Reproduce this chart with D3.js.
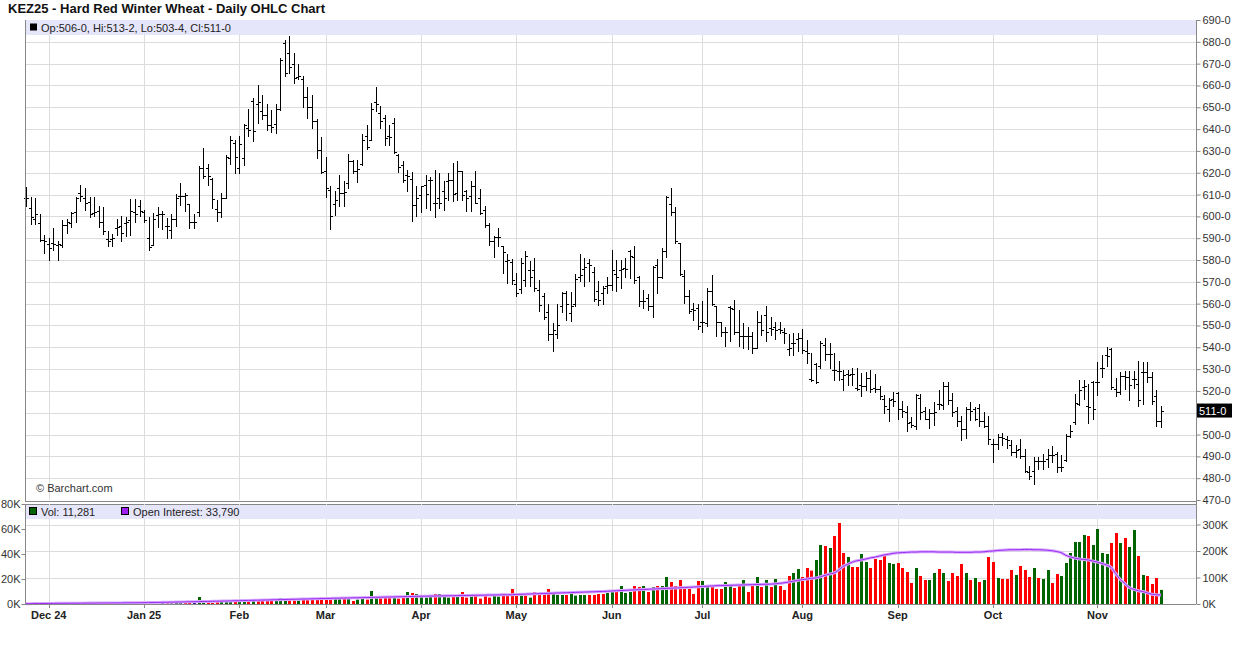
<!DOCTYPE html>
<html><head><meta charset="utf-8">
<script src="https://cdn.jsdelivr.net/npm/d3@7/dist/d3.min.js"></script>
<style>
body{margin:0;background:#fff;}
svg text{font-family:"Liberation Sans",Arial,Helvetica,sans-serif;}
</style>
</head><body>
<svg id="chart" width="1236" height="645"></svg>
<script>
// ---------- DATA ----------
const title = "KEZ25 - Hard Red Winter Wheat - Daily OHLC Chart";
const firstDay = "2024-11-22", lastDay = "2025-11-21";
const holidays = ["2024-11-28","2024-12-25","2025-01-01","2025-01-20","2025-02-17","2025-04-18","2025-05-26","2025-06-19","2025-07-04","2025-09-01"];
const priceTicks = [470,480,490,500,510,520,530,540,550,560,570,580,590,600,610,620,630,640,650,660,670,680,690];
const volTicksLeft = [0,20,40,60,80];           // thousands
const oiTicksRight = [0,100,200,300];            // thousands

const opens = [608.5,603.8,598.8,597,589,587.3,587.7,587.1,587.1,596,597,601.8,610.9,608.6,606.4,601.4,602.6,597.3,589.7,589.7,594.5,595.8,597,598.5,601.8,604.8,601.8,590,587.1,600.8,601,595.8,593.8,599,609.4,609.4,605.6,597.3,601.8,622.3,622.3,617,603.3,602,608.2,626.8,633.6,622.3,626.6,640.4,653,651.5,648.3,646.5,641.9,642.2,649,679.3,675,670,664,663,654.6,650.3,643.9,630.4,621,612,605.8,613,610.7,615.3,625.5,620.6,624,637,635.1,652.2,647.6,645,637,642.7,628.2,623.7,619.1,617.1,605.3,609.6,614.5,616.5,606,608.4,611.5,616,616.8,610.7,620.6,611.5,609.2,614,608.4,603,596.2,588.5,590.4,586.3,579.4,578.9,569.2,566.5,571,575.6,575.6,566.3,563.4,556,546.3,546.3,558.8,564.9,555.7,560,572,575.8,578.5,574.3,565.6,565.1,568.2,568.6,573.7,575.2,576.3,583.9,581.5,572.1,561,562.5,559,577.8,572.4,583.9,605.7,601.9,587.7,572.7,563.6,557.5,557.9,551.4,551,565.6,558.7,551.4,547.2,558.4,557.5,546.8,545,545.3,545,539.6,551.4,554.9,548.8,549.5,548.3,546.8,539.2,541.9,543.7,544.2,538.1,525.4,532.3,531.2,541.1,537,529.7,528.9,525.4,527.9,527.9,521.2,522.8,522.4,525.8,521.2,520.9,516.3,511.5,516.3,519.1,511.5,510.5,505.6,503.8,516.6,511,507.2,509.9,514,513.6,522.4,516,511,506,502.6,511.5,511.5,512,506,503.8,495.7,495.7,498.8,498,495.3,492.2,493.4,490,483,483.5,488.1,488.1,488.9,490.4,491.1,485,488.5,499.5,505.6,514,521.7,513.3,524.3,524.3,530.4,536.5,539.2,520.9,519.4,527,526.3,525.5,523,528.5,528.5,526.3,517.6,506];
const highs = [613.6,609.1,608.3,601,591.5,590,594.5,588.6,598.3,598.6,601.8,609.1,614.2,612.9,609.1,609.1,604.8,604.5,593.2,592,598.6,600,599.5,607.9,607.9,607.6,603,599.5,601.4,604.5,602.6,599.2,601,610.2,615.5,610.6,605.6,601,623,631.4,623.8,617.7,607.4,610.5,628.3,637,634.8,636.9,642.2,649,654.1,660.2,655.6,651.5,648.7,651.5,672.4,681,682.6,674.7,670,664.4,659.5,655.5,644.4,636.4,627.4,614,611.8,619.1,616,628.5,626,626,637.9,642,651.9,659.2,650.4,646.6,642,645.3,628.7,625.6,621.4,620.2,613.7,614,618.8,618,621.4,619.9,616,619.9,624.4,625.5,620.6,612.2,616,620.6,612.5,604.9,596.9,591.1,594.6,586.6,582.9,580.5,574,580.9,584,579.4,580.9,571,564.9,560,551.1,560,565.2,565.6,565.3,573.7,582.8,580.8,580.4,576.7,570.2,568.2,572.4,584.7,580.1,580.1,580.8,584.7,586.2,572.7,566.3,564.5,577.3,580.4,585.4,609.4,612.9,604.2,588,575.5,566.3,560.2,559.9,561,567.1,573.2,559,551.8,549.5,558.7,561.8,556.9,551.1,549.5,547.2,556.4,554.9,558.7,554.1,551.4,551.4,548.8,546.2,546.5,546.5,548.3,543.4,537.3,532.7,542.7,544.2,541.9,537.6,533.5,529.7,529.4,530.5,530.5,528.2,528.5,529.8,527.8,522.4,517.9,516.6,519.7,519.7,515.6,513.3,507.9,518.6,518.6,512.5,511.8,514.8,520.6,524,524.3,519.1,512.5,508.4,512.5,515.1,512.5,514,510.5,508.7,498,500.3,500.8,499.2,497.7,495,498,493.4,485.8,489.6,489.6,491.1,493.4,494.7,491.9,490.7,500.3,504.4,518.6,525.2,525.2,523.2,524.7,533.1,536.5,540,539.5,525.8,528.5,528.9,529.3,529.3,533.9,533.1,533.1,528.5,520.2,513.25];
const lows = [604.8,596.7,596.7,588.6,583.2,580,584.8,580,585.9,592.6,595,597.6,607.1,603,599.5,600.3,595.3,592.1,586.2,586.2,591.5,588.6,590.8,591.5,597.6,600.3,597.6,584.8,587.1,595,594.2,590.3,590,595.8,605.2,602.6,594.5,594.5,600,617.6,614.6,604,598,599.5,608.2,623.8,619.7,620,623.6,636.9,634.7,642.6,644.4,639.6,638.8,638,648.7,664.4,665.9,661,662.8,650.3,645,640.4,626.6,620,608.7,594.2,600.8,604.6,604.6,613,619.9,615.6,623.7,630.8,635.1,648.1,640.5,632.5,632.8,629,620.2,615.6,611.5,597.7,600,601.8,603.8,603,599.5,603.8,603,607.6,606.9,607.3,607.6,602.6,602.3,606.1,601.2,595.1,587,581.4,586.3,574,569.5,569.2,563.4,564.9,568,568,565.6,556.5,553,543.5,538.1,544.3,556,552.7,552.2,558.8,570.6,568.2,570.6,561,559.5,559.8,564.8,566.3,565.6,567.1,572,571.7,569.4,558.7,558,557.2,553.8,564.8,571.7,581.6,600.7,587.7,573.2,560.5,555.6,552.6,548.6,546.8,549.8,559.5,545.3,545.3,540.4,542.7,546.2,540.4,539.6,539.2,537.6,539.6,545.7,542.7,545.7,543.7,546.5,541.9,536.6,536.6,538.1,537.3,533,524.4,523.6,530.5,534.3,530.5,525.1,525.1,520.5,522.8,522.8,520.2,517.8,520.5,519.7,519.4,516.3,509.9,506.4,513.3,507.2,507.9,501.4,503.4,502.6,507.2,507.2,502.9,504.4,511.8,511.5,514,508.4,504.1,497.3,498.3,506.7,506.7,504.1,503.4,495.7,487.6,493.4,495,493.7,490.4,489.6,489.2,482.7,479.7,477.4,484.3,484,485,487.3,482.7,483.5,488.1,498.8,504.9,513.6,516.3,505.3,507.2,518.2,526.3,531.3,520.9,517.6,518.6,520.9,516,521.2,513.3,514,524,514,503.8,503.5];
const closes = [608.5,599.5,601,589,588.6,585.6,587.3,587.3,596.2,597.4,601.5,608.6,609.4,606,601,601.8,597.3,593.2,588.9,590,595,592.3,597.3,602.6,601,602.6,598.5,585.9,599,601,601,595.5,599,608.6,609.4,610,597.3,597.3,622.3,618.5,618.5,607.9,601.8,608.2,627.3,635.2,627.3,633,641.9,639.5,639,652.6,646.5,641.9,641.1,649,671.6,665.9,668.6,663.3,664.5,654.6,650.3,643.9,630.4,620.5,613,600,607.6,610.7,611,625.5,620.6,621.7,635.1,632,649.2,651.6,643.5,635.9,636.6,629.5,622.6,616.8,618.6,605.3,608.4,613.7,610.2,616.8,606,606,608.4,616.5,610.4,620.6,609.9,608.4,613.7,606.1,601.5,596.2,588.5,590.4,590.7,583.5,579.8,571,565,578.6,581.7,572,567.1,559.5,553.9,546,548,550,564.9,559.8,558.8,571.5,573,576.7,577.8,562.1,561.8,567.1,568.6,575.2,572.1,575.8,575.8,581.9,570.9,561,561,559,576.7,572.1,583.9,608.8,601.9,588.5,573.7,563.3,556.4,557.2,549.8,551.4,565.6,560,551.8,547.2,546.8,557.9,547.2,545.3,545.3,545.3,539.6,551.4,548,547.2,548.3,548,548,546.5,539.6,541.9,544.2,538.6,537.3,525.1,524,541.9,537,537,529.7,528.9,527.4,527.4,527.9,520.8,522.3,526,520.9,520.9,517.6,513,516,515.3,511.8,511,505.3,504.4,518.2,510.2,507.2,509.9,510.2,514,522.4,516,510.2,506,502.6,511.5,511,507.2,506,503.8,498,495.7,498.8,498.3,497.3,492.2,492.7,490,483.5,481.2,488.1,488.1,488.1,490.4,490.4,485,485,499.5,501.8,514.5,520.2,522.1,512.5,511.8,524,530.4,536.2,521.7,519.7,526.7,526.3,522.7,525.5,516,528.5,526.3,515.6,506.4,511];
// volume in thousands of contracts (left axis), direction g=up r=down n=unchanged
const volume = [0.6,0.8,0.5,0.7,0.6,0.8,0.5,0.7,0.9,0.6,0.7,0.9,0.8,0.6,0.7,0.8,0.6,0.9,0.7,0.8,0.9,0.7,0.8,1.0,0.9,1.3,1.3,1.6,1.1,1.1,1.1,1.1,2.4,1.6,1.6,1.6,1.9,2.4,5.6,2.4,2.4,0.8,1.9,3.2,2.4,2.4,2.4,1.9,2.7,3.2,4.0,2.4,4.0,4.0,2.7,4.0,4.8,3.5,4.0,2.7,2.7,3.5,3.5,3.5,3.5,5.6,5.6,5.3,5.3,5.3,4.0,5.1,2.4,3.5,4.3,3.5,10.4,5.3,5.3,5.1,5.1,5.1,4.3,6.4,9.6,8.8,8.0,6.4,5.1,7.2,8.0,8.0,6.4,5.1,5.9,5.9,9.6,5.1,6.7,6.7,4.3,7.2,5.1,6.7,5.9,8.3,6.7,12.0,8.8,6.7,6.7,5.1,9.6,8.5,7.2,12.0,8.8,7.2,7.2,7.2,8.8,6.7,7.2,7.2,7.2,7.2,8.0,8.0,8.8,11.2,10.4,14.4,8.8,9.6,14.4,13.6,14.4,9.6,13.6,14.4,14.4,21.6,17.6,14.4,19.2,13.6,12.0,8.0,18.4,18.4,14.9,14.4,12.0,12.0,17.6,16.0,12.8,15.2,19.2,9.6,16.0,21.6,13.6,19.2,13.6,20.0,14.4,11.2,22.4,24.8,28.0,21.6,28.8,26.7,35.2,47.2,46.4,44.8,54.4,64.8,40.8,37.6,29.6,29.6,40.0,33.6,28.8,36.0,35.2,39.2,32.8,32.0,32.8,28.8,25.6,16.8,28.8,22.4,19.2,19.2,24.8,28.0,24.8,18.4,24.8,22.4,32.0,24.8,19.2,20.8,17.6,19.2,37.6,33.6,20.8,20.0,20.0,27.2,23.2,30.4,27.2,21.6,28.8,20.8,20.0,27.2,16.8,24.0,22.4,32.8,40.8,49.6,49.6,55.2,54.4,47.2,60.0,40.8,40.0,48.8,56.8,48.8,52.8,45.6,59.2,38.4,23.2,22.4,16.0,20.8,11.281];
const volDir = ("grgrrrgrgg"+"gggrrgrrrg"+"grggrgrrgg"+"nrgggrrngg"+"rrrgggrggr"+"grrrrgggrr"+"grrrrrrrgg"+"rgrggrggrr"+"rgrrgrgggg"+"rgggrgrrgr"+"rrrggrrrrg"+"rgrrrrgggr"+"ggggrrrrgg"+"rgggrrgrgr"+"ggrrrrrrrg"+"grrrggrrgr"+"rgrgrgrrrg"+"grrrggrgrr"+"rgrrggrrrr"+"ggrrrrgrrg"+"grgrrrrgrg"+"rgrrgrrrgr"+"rrgrggrrgg"+"ggggrggggr"+"rgrggrgrrr"+"g").split("");
// open interest in thousands (right axis)
const openInterest = [1.2,1.4,1.6,1.8,2.0,2.2,2.3,2.5,2.6,2.8,2.9,3.0,3.1,3.3,3.4,3.5,3.6,3.8,3.9,4.0,4.1,4.2,4.4,4.5,4.6,4.8,
5.0,5.3,5.6,5.9,6.2,6.5,6.9,7.2,7.5,7.9,8.2,8.6,9.0,9.4,9.7,10.1,10.5,10.9,11.3,11.7,12.1,
12.5,13.0,13.4,13.9,14.3,14.8,15.2,15.6,16.1,16.5,17.0,17.4,17.8,18.2,18.7,19.1,19.5,19.9,20.4,
20.8,21.2,21.6,22.0,22.4,22.8,23.2,23.6,24.0,24.4,24.8,25.2,25.6,26.0,26.4,26.8,27.2,27.6,28.0,28.4,28.8,
29.2,29.5,29.8,30.1,30.4,30.7,31.0,31.3,31.6,31.9,32.2,32.5,32.8,33.1,33.4,33.7,34.0,34.3,34.6,34.9,35.2,
36,36.6,37.2,37.8,38.4,39,39.6,40.2,40.8,41.4,42,42.6,43.2,43.8,44.4,45,45.6,46.2,46.8,47.4,48,
49,50,50.8,51.6,52.4,53.2,54,54.8,55.6,56.4,57.2,58,58.8,59.6,60.4,61.2,62,63,64,65,
66,67,68,69,69.5,70,70.5,71,71.5,72,72.5,73,73.5,74,74.5,75,76,78,80,83,86,89,
92,94,97,98,103,108,113,117,128,142,150,158,163,166,170,174,177,181,185,188,191,
193,194,195,196,196,197,197,197,197,196,196,196,196,195,195,195,195,196,196,197,199,
200,202,203,204,205,205,205,206,206,205,205,204,203,201,198,194,184,178,173,170,168,166,162,
158,153,147,138,115,93,78,62,55,50,47,42,37,35,33.79];

// ---------- TRADING CALENDAR (categories) ----------
const fmtDay = d3.utcFormat("%Y-%m-%d");
const dates = d3.utcDays(new Date(firstDay+"T00:00Z"), new Date(lastDay+"T00:00Z").getTime()+86400000)
  .filter(d => d.getUTCDay()!==0 && d.getUTCDay()!==6 && !holidays.includes(fmtDay(d)));
const n = dates.length;

// ---------- LAYOUT ----------
const svg = d3.select("#chart");
const L = 25, R = 1196;
const pTop = 20, pBot = 500, vTop = 504, vBot = 604;
const x = d3.scaleLinear().domain([0, n-1]).range([26, 1161]);
const y = d3.scaleLinear().domain([470, 690]).range([pBot, pTop]);
const yVol = d3.scaleLinear().domain([0, 80]).range([vBot, vTop]);
const yOI = d3.scaleLinear().domain([0, 300]).range([vBot, 524.5]);
const fmtPrice = v => { let w = Math.floor(v + 1e-9); let e = Math.round((v - w) * 8); if (e === 8) { w++; e = 0; } return w + "-" + e; };
const grid = "#dcdcdc", axisCol = "#888", txt = "#333";

// month boundaries
const monthIdx = [];
for (let i = 1; i < n; i++) if (dates[i].getUTCMonth() !== dates[i-1].getUTCMonth()) monthIdx.push(i);
const monthLabel = i => { const d = dates[i]; const m = d3.utcFormat("%b")(d);
  return (d.getUTCMonth() === 0 || i === monthIdx[0]) ? m + " " + d3.utcFormat("%y")(d) : m; };
const px = i => Math.round(x(i)) + 0.5;

// title
svg.append("text").attr("x", 8).attr("y", 13).attr("font-size", 13).attr("font-weight", "bold").attr("fill", "#111").text(title);

// ---- price panel ----
const gp = svg.append("g");
gp.selectAll("line.hg").data(priceTicks.slice(1, -1)).join("line")
  .attr("x1", L).attr("x2", R).attr("y1", d => Math.round(y(d)) + 0.5).attr("y2", d => Math.round(y(d)) + 0.5)
  .attr("stroke", grid);
gp.selectAll("line.vg").data(monthIdx).join("line")
  .attr("x1", px).attr("x2", px).attr("y1", pTop).attr("y2", pBot).attr("stroke", grid);
// header band
const last = n - 1;
gp.append("rect").attr("x", L + 1).attr("y", pTop).attr("width", R - L - 1).attr("height", 15).attr("fill", "#e6e6fa");
gp.append("rect").attr("x", 30).attr("y", 23.5).attr("width", 7).attr("height", 7).attr("fill", "#000");
gp.append("text").attr("x", 41).attr("y", 31.5).attr("font-size", 11).attr("fill", "#222")
  .text(`Op:${fmtPrice(opens[last])}, Hi:${fmtPrice(highs[last])}, Lo:${fmtPrice(lows[last])}, Cl:${fmtPrice(closes[last])}`);
// OHLC bars
const idx = d3.range(n);
gp.append("path").attr("fill", "none").attr("stroke", "#000").attr("stroke-width", 1)
  .attr("shape-rendering", "crispEdges")
  .attr("d", idx.map(i => {
    const xx = px(i);
    const yo = Math.round(y(opens[i])) + 0.5, yc = Math.round(y(closes[i])) + 0.5;
    return `M${xx},${Math.round(y(highs[i]))}V${Math.round(y(lows[i])) + 1}M${xx - 2.5},${yo}H${xx}M${xx},${yc}H${xx + 2.5}`;
  }).join(""));
gp.append("text").attr("x", 36).attr("y", 492).attr("font-size", 11).attr("fill", "#333").text("\u00A9 Barchart.com");
// frame
gp.append("line").attr("x1", L + 0.5).attr("x2", L + 0.5).attr("y1", pTop).attr("y2", pBot + 1).attr("stroke", axisCol);
gp.append("line").attr("x1", L).attr("x2", R).attr("y1", pBot + 1.5).attr("y2", pBot + 1.5).attr("stroke", axisCol);
// right axis (the tick label hidden under the last-price marker is not drawn)
const yl = y(closes[last]);
const ax = d3.axisRight(y).tickValues(priceTicks).tickFormat(fmtPrice).tickSize(4).tickPadding(2);
const gax = svg.append("g").attr("transform", `translate(${R + 0.5},0)`).call(ax);
gax.select(".domain").attr("stroke", axisCol).attr("d", `M0,${pTop}V${vBot}`);
gax.selectAll(".tick line").attr("stroke", axisCol);
gax.selectAll(".tick text").attr("font-size", 11).attr("fill", txt).attr("font-family", null);
gax.selectAll(".tick").filter(d => Math.abs(y(d) - yl) < 11).select("text").remove();
// last price marker
svg.append("rect").attr("x", R + 1).attr("y", yl - 7).attr("width", 35).attr("height", 14).attr("fill", "#000");
svg.append("text").attr("x", R + 3).attr("y", yl + 4).attr("font-size", 11).attr("fill", "#fff").text(fmtPrice(closes[last]));

// ---- volume panel ----
const gv = svg.append("g");
gv.append("line").attr("x1", L).attr("x2", R).attr("y1", vTop + 0.5).attr("y2", vTop + 0.5).attr("stroke", axisCol);
gv.selectAll("line.hv").data([100, 200, 300]).join("line")
  .attr("x1", L).attr("x2", R).attr("y1", d => Math.round(yOI(d)) + 0.5).attr("y2", d => Math.round(yOI(d)) + 0.5).attr("stroke", grid);
gv.selectAll("line.vv").data(monthIdx).join("line")
  .attr("x1", px).attr("x2", px).attr("y1", vTop).attr("y2", vBot).attr("stroke", grid);
gv.append("rect").attr("x", L + 1).attr("y", vTop + 1).attr("width", R - L - 1).attr("height", 14).attr("fill", "#e6e6fa");
const colorOf = { g: "#006400", r: "#ff0000", n: "#000080" };
gv.selectAll("rect.vol").data(idx).join("rect")
  .attr("x", i => Math.round(x(i)) - 1).attr("width", 3)
  .attr("y", i => yVol(volume[i])).attr("height", i => vBot - yVol(volume[i]))
  .attr("fill", i => colorOf[volDir[i]]);
const oiLine = d3.line().x(i => x(i)).y(i => yOI(openInterest[i])).curve(d3.curveMonotoneX);
gv.append("path").attr("d", oiLine(idx)).attr("fill", "none").attr("stroke", "#d7a8ff").attr("stroke-width", 3);
gv.append("path").attr("d", oiLine(idx)).attr("fill", "none").attr("stroke", "#9a2cf0").attr("stroke-width", 1);
// legend
gv.append("rect").attr("x", 29.5).attr("y", 507.5).attr("width", 7).attr("height", 7).attr("fill", "#006400").attr("stroke", "#000");
gv.append("text").attr("x", 41).attr("y", 515.5).attr("font-size", 11).attr("fill", "#222")
  .text("Vol: " + d3.format(",")(Math.round(volume[last] * 1000)));
gv.append("rect").attr("x", 121.5).attr("y", 507.5).attr("width", 7).attr("height", 7).attr("fill", "#a020f0").attr("stroke", "#000");
gv.append("text").attr("x", 133).attr("y", 515.5).attr("font-size", 11).attr("fill", "#222")
  .text("Open Interest: " + d3.format(",")(Math.round(openInterest[last] * 1000)));
// left axis
gv.append("line").attr("x1", L + 0.5).attr("x2", L + 0.5).attr("y1", vTop).attr("y2", vBot).attr("stroke", axisCol);
const lax = d3.axisLeft(yVol).tickValues(volTicksLeft).tickFormat(d => d + "K").tickSize(4).tickPadding(1);
const glx = svg.append("g").attr("transform", `translate(${L + 0.5},0)`).call(lax);
glx.select(".domain").remove();
glx.selectAll(".tick line").attr("stroke", axisCol);
glx.selectAll(".tick text").attr("font-size", 11).attr("fill", txt).attr("font-family", null);
// right OI axis
const rax = d3.axisRight(yOI).tickValues(oiTicksRight).tickFormat(d => d + "K").tickSize(4).tickPadding(2);
const grx = svg.append("g").attr("transform", `translate(${R + 0.5},0)`).call(rax);
grx.select(".domain").remove();
grx.selectAll(".tick line").attr("stroke", axisCol);
grx.selectAll(".tick text").attr("font-size", 11).attr("fill", txt).attr("font-family", null);
// bottom axis
svg.append("line").attr("x1", L).attr("x2", R).attr("y1", vBot + 0.5).attr("y2", vBot + 0.5).attr("stroke", axisCol);
const gb = svg.append("g");
gb.selectAll("line").data(monthIdx).join("line")
  .attr("x1", px).attr("x2", px).attr("y1", vBot).attr("y2", vBot + 4).attr("stroke", axisCol);
gb.selectAll("text").data(monthIdx).join("text")
  .attr("x", i => x(i)).attr("y", 619).attr("text-anchor", "middle")
  .attr("font-size", 11).attr("font-weight", "bold").attr("fill", "#222").text(monthLabel);
</script>
</body></html>
